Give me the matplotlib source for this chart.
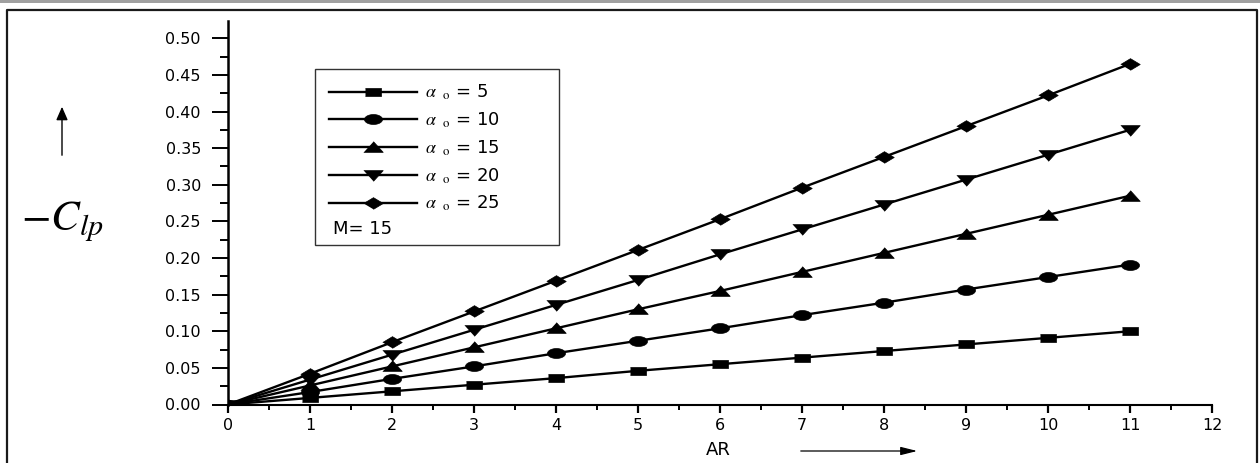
import numpy as np
import matplotlib
matplotlib.use("Agg")
import matplotlib.pyplot as plt
from matplotlib.patches import Rectangle, FancyArrowPatch
from matplotlib.lines import Line2D

plt.rcParams["font.family"] = ["DejaVu Sans"]
plt.rcParams["mathtext.fontset"] = "stix"

# ---- 数据----
ar = [0, 1, 2, 3, 4, 5, 6, 7, 8, 9, 10, 11]
clp_a5 = [0, 0.009, 0.018, 0.027, 0.036, 0.046, 0.055, 0.064, 0.073, 0.082, 0.091, 0.100]
clp_a10 = [0, 0.017, 0.035, 0.052, 0.070, 0.087, 0.104, 0.122, 0.139, 0.157, 0.174, 0.191]
clp_a15 = [0, 0.026, 0.052, 0.078, 0.104, 0.130, 0.155, 0.181, 0.207, 0.233, 0.259, 0.285]
clp_a20 = [0, 0.034, 0.068, 0.102, 0.136, 0.170, 0.205, 0.239, 0.273, 0.307, 0.341, 0.375]
clp_a25 = [0, 0.042, 0.085, 0.127, 0.169, 0.211, 0.253, 0.296, 0.338, 0.380, 0.422, 0.465]
alpha0 = [5, 10, 15, 20, 25]
mach = 15
x_ticks = list(range(0, 13))
y_ticks = [0.00, 0.05, 0.10, 0.15, 0.20, 0.25, 0.30, 0.35, 0.40, 0.45, 0.50]

# 横向拉伸的标记形状（原图整体被横向拉宽）
t = np.linspace(0, 2 * np.pi, 40)
mk_square = [(-1, -0.5), (1, -0.5), (1, 0.5), (-1, 0.5)]
mk_circle = list(zip(np.cos(t), 0.55 * np.sin(t)))
mk_up = [(-1, -0.5), (1, -0.5), (0, 0.6)]
mk_down = [(-1, 0.5), (1, 0.5), (0, -0.6)]
mk_diamond = [(-1, 0), (0, 0.6), (1, 0), (0, -0.6)]
styles = [(mk_square, 11.5), (mk_circle, 13), (mk_up, 14), (mk_down, 14), (mk_diamond, 14)]
series = [clp_a5, clp_a10, clp_a15, clp_a20, clp_a25]

W, H = 1260, 463
fig = plt.figure(figsize=(W / 100, H / 100), dpi=100)

# 外框
fig.add_artist(Rectangle((0, 1 - 2.5 / H), 1, 2.5 / H, transform=fig.transFigure,
                         color="#a0a0a0", lw=0))
fig.add_artist(Line2D([7 / W, 7 / W, 1257 / W, 1257 / W], [0, 1 - 10 / H, 1 - 10 / H, 0],
                      transform=fig.transFigure, color="#1a1a1a", lw=1.6))

ax = fig.add_axes([228 / W, (H - 404.5) / H, 984 / W, 383.8 / H])

handles = []
for ys, (mk, ms) in zip(series, styles):
    h, = ax.plot(ar, ys, color="black", lw=1.7, marker=mk, markersize=ms,
                 markerfacecolor="black", markeredgecolor="black", markeredgewidth=0.5)
    handles.append(h)

ax.set_xlim(0, 12)
ax.set_ylim(0, 0.524)
ax.set_xticks(x_ticks)
ax.set_xticks(np.arange(0.5, 12, 1.0), minor=True)
ax.set_yticks(y_ticks)
ax.set_yticks(np.arange(0.025, 0.52, 0.05), minor=True)
ax.set_yticklabels([f"{v:.2f}" for v in y_ticks])
ax.tick_params(axis="y", which="major", direction="out", length=11.5, width=1.4,
               labelsize=11.5, pad=8)
ax.tick_params(axis="y", which="minor", direction="out", length=5.8, width=1.4)
ax.tick_params(axis="x", which="major", direction="out", length=5.8, width=1.6,
               labelsize=11.5, pad=4)
ax.tick_params(axis="x", which="minor", direction="out", length=3.5, width=1.4)
for s in ["top", "right"]:
    ax.spines[s].set_visible(False)
ax.spines["left"].set_linewidth(1.8)
ax.spines["bottom"].set_linewidth(1.5)

# 坐标轴标题 + 箭头
fig.text(718 / W, 1 - 450 / H, "AR", ha="center", va="center", fontsize=13)
fig.add_artist(FancyArrowPatch(
    (798 / W, 1 - 451 / H), (920 / W, 1 - 451 / H), transform=fig.transFigure,
    arrowstyle="-|>,head_length=10,head_width=2.5", color="black", lw=0.9))
fig.text(62 / W, 1 - 222 / H, r"$-C_{lp}$", ha="center", va="center", fontsize=31)
fig.add_artist(FancyArrowPatch(
    (62 / W, 1 - 158 / H), (62 / W, 1 - 104 / H), transform=fig.transFigure,
    arrowstyle="-|>,head_length=8,head_width=3.5", color="black", lw=1.0))

# 图例（手工外框 + M= 15）
x0, y0 = 228, 404.5
ax_w, ax_h = 984, 383.8


def ax_xy(px, py):
    return (px - x0) / ax_w, (y0 - py) / ax_h


bx, by = ax_xy(315, 245)
bx2, by2 = ax_xy(559, 69)
ax.add_patch(Rectangle((bx, by), bx2 - bx, by2 - by, transform=ax.transAxes,
                       fill=False, edgecolor="#333333", lw=1.0, zorder=5))
labels = [rf"$\alpha\;\;{{}}_{{\mathrm{{o}}}}$ = {a}" for a in alpha0]
lx, ly = ax_xy(329, 83)
ax.legend(handles, labels, loc="upper left", bbox_to_anchor=(lx, ly),
          frameon=False, fontsize=13, handlelength=4.9, handletextpad=0.4,
          labelspacing=0.46, borderpad=0, borderaxespad=0)
mx, my = ax_xy(333, 229)
ax.text(mx, my, f"M= {mach}", transform=ax.transAxes, ha="left", va="center", fontsize=13)

fig.savefig("out.png", dpi=100)
